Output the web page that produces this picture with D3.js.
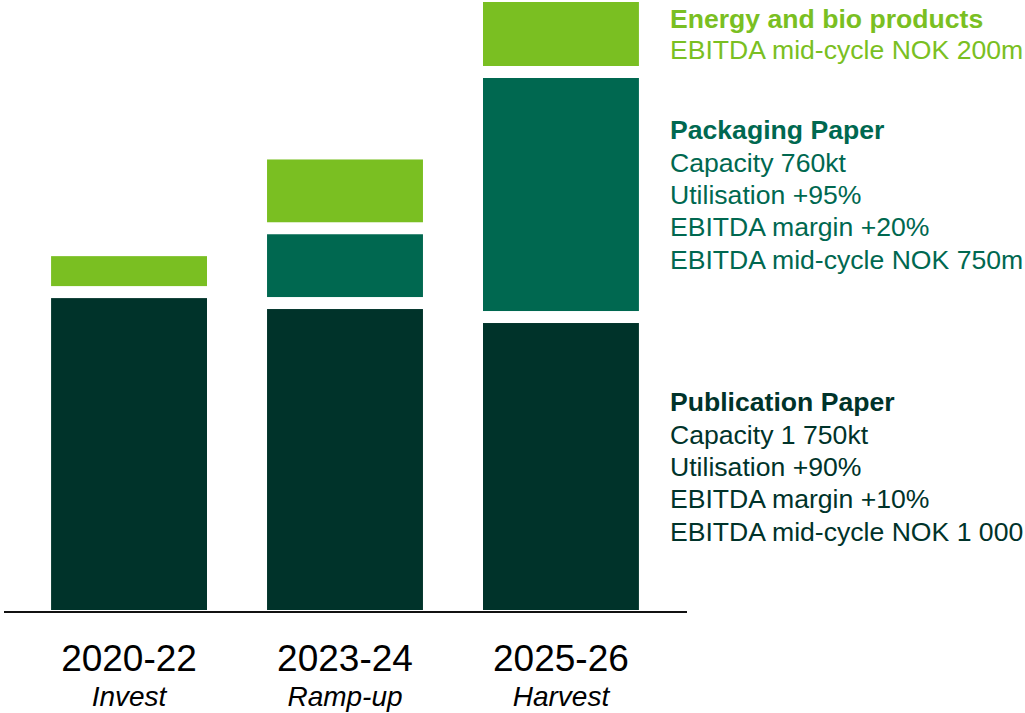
<!DOCTYPE html>
<html>
<head>
<meta charset="utf-8">
<script src="https://cdn.jsdelivr.net/npm/d3@7"></script>
<style>
  html, body { margin: 0; padding: 0; background: #ffffff; }
  svg { display: block; }
  text { font-family: "Liberation Sans", Arial, sans-serif; }
</style>
</head>
<body>
<svg id="chart" width="1025" height="713"></svg>
<script>
// Periods and phase names along the bottom
const periods = ["2020-22", "2023-24", "2025-26"];
const phases = ["Invest", "Ramp-up", "Harvest"];

// Segment sizes per period (relative index, stacked bottom to top)
const publication = [51.3, 49.5, 47.2];
const packaging   = [0, 12.3, 40.3];
const energy      = [6.9, 12.3, 12.5];

// Segment descriptions shown to the right of the last bar
const publicationText = ["Publication Paper", "Capacity 1 750kt", "Utilisation +90%", "EBITDA margin +10%", "EBITDA mid-cycle NOK 1 000"];
const packagingText   = ["Packaging Paper", "Capacity 760kt", "Utilisation +95%", "EBITDA margin +20%", "EBITDA mid-cycle NOK 750m"];
const energyText      = ["Energy and bio products", "EBITDA mid-cycle NOK 200m"];

const colors = { publication: "#00332a", packaging: "#006850", energy: "#7abf22" };

const svg = d3.select("#chart");

const x = d3.scaleBand().domain(periods).range([4, 686]).paddingInner(0.278).paddingOuter(0.218);
const y = d3.scaleLinear().domain([0, 100]).range([610, 2]);
const GAP = 12; // white separation between stacked segments

const keys = ["publication", "packaging", "energy"];
const series = { publication, packaging, energy };
const rows = periods.map((p, i) => {
  const r = { period: p };
  keys.forEach(k => r[k] = series[k][i]);
  return r;
});
const stacked = d3.stack().keys(keys)(rows);

stacked.forEach(layer => {
  svg.append("g").selectAll("rect")
    .data(layer.filter(d => d[1] - d[0] > 0))
    .join("rect")
    .attr("x", d => x(d.data.period))
    .attr("width", x.bandwidth())
    .attr("y", d => y(d[1]))
    .attr("height", d => y(d[0]) - y(d[1]) - (d[0] > 0 ? GAP : 0))
    .attr("fill", colors[layer.key]);
});

// Baseline
svg.append("line")
  .attr("x1", 4).attr("x2", 687)
  .attr("y1", 612).attr("y2", 612)
  .attr("stroke", "#111").attr("stroke-width", 2.2);

// Category labels
const cat = svg.append("g");
cat.selectAll("text.period").data(periods).join("text")
  .attr("class", "period")
  .attr("x", d => x(d) + x.bandwidth() / 2)
  .attr("y", 671)
  .attr("text-anchor", "middle")
  .attr("font-size", 37)
  .attr("fill", "#000")
  .text(d => d);
cat.selectAll("text.phase").data(phases).join("text")
  .attr("class", "phase")
  .attr("x", (d, i) => x(periods[i]) + x.bandwidth() / 2)
  .attr("y", 706)
  .attr("text-anchor", "middle")
  .attr("font-size", 28)
  .attr("font-style", "italic")
  .attr("fill", "#000")
  .text(d => d);

// Descriptions centred on the last bar's segments
const last = periods.length - 1;
function block(lines, key, color, lineStep) {
  const layer = stacked.find(l => l.key === key)[last];
  const top = y(layer[1]);
  const bottom = y(layer[0]) - (layer[0] > 0 ? GAP : 0);
  const mid = (top + bottom) / 2;
  const start = mid - (lines.length - 1) * lineStep / 2;
  svg.append("g").selectAll("text").data(lines).join("text")
    .attr("x", 670)
    .attr("y", (d, i) => start + i * lineStep)
    .attr("dy", "0.36em")
    .attr("font-size", 26.6)
    .attr("font-weight", (d, i) => i === 0 ? "bold" : "normal")
    .attr("fill", color)
    .text(d => d);
}
block(energyText, "energy", colors.energy, 31);
block(packagingText, "packaging", colors.packaging, 32.3);
block(publicationText, "publication", colors.publication, 32.3);
</script>
</body>
</html>
